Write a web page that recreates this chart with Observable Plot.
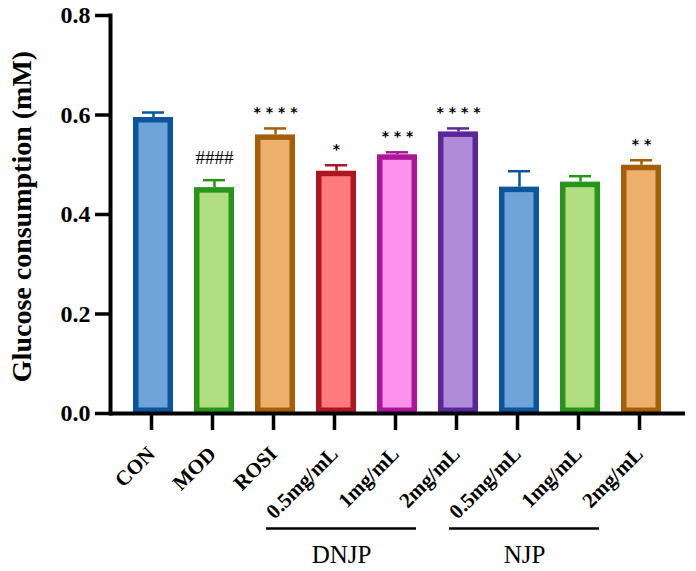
<!DOCTYPE html>
<html>
<head>
<meta charset="utf-8">
<script src="https://cdn.jsdelivr.net/npm/d3@7"></script>
<script src="https://cdn.jsdelivr.net/npm/@observablehq/plot@0.6"></script>
<style>
  html, body { margin: 0; padding: 0; background: #fff; }
</style>
</head>
<body>
<div id="chart"></div>
<script>
// ---- data ----
const categories = ["CON", "MOD", "ROSI", "0.5mg/mL", "1mg/mL", "2mg/mL", "0.5mg/mL", "1mg/mL", "2mg/mL"];
const groups     = ["", "", "", "DNJP", "DNJP", "DNJP", "NJP", "NJP", "NJP"];
const means      = [0.595, 0.454, 0.560, 0.487, 0.520, 0.566, 0.455, 0.465, 0.499];
const errors     = [0.010, 0.015, 0.013, 0.012, 0.005, 0.007, 0.032, 0.012, 0.010];
const signif     = ["", "####", "****", "*", "***", "****", "", "", "**"];
const fillColors   = ["#6ea4d8", "#b2de82", "#ecb06c", "#fe7a7c", "#fe91ee", "#b08bd8", "#6ea4d8", "#b2de82", "#ecb06c"];
const strokeColors = ["#0a559b", "#27951a", "#a65e08", "#ac1522", "#ac1596", "#5a269a", "#0a559b", "#27951a", "#a65e08"];
const yTicks = [0, 0.2, 0.4, 0.6, 0.8];
const yLabel = "Glucose consumption (mM)";

const data = categories.map((c, i) => ({
  i, cat: c, group: groups[i], mean: means[i], err: errors[i], top: means[i] + errors[i],
  sig: signif[i], fill: fillColors[i], stroke: strokeColors[i]
}));
const groupNames = [...new Set(groups.filter(g => g))];
const groupSpans = groupNames.map(g => {
  const idx = data.filter(d => d.group === g).map(d => d.i);
  return {group: g, first: idx[0], mid: idx[Math.floor(idx.length / 2)], last: idx[idx.length - 1]};
});
const hashes = data.filter(d => d.sig.startsWith("#"));
const stars = data.filter(d => d.sig.startsWith("*")).map(d => ({...d, label: d.sig.split("").join(" ")}));

const serif = "'Liberation Serif', 'Times New Roman', serif";

const chart = Plot.plot({
  width: 696,
  height: 571,
  marginLeft: 110,
  marginRight: 11,
  marginTop: 15,
  marginBottom: 158,
  style: {fontFamily: serif, background: "#fff", color: "#000"},
  x: {type: "band", domain: data.map(d => d.i), paddingInner: 0.337, paddingOuter: 0.362},
  y: {domain: [0, 0.8]},
  color: {type: "identity"},
  marks: [
    // error bars (upper only)
    Plot.ruleX(data, {x: "i", y1: "mean", y2: "top", stroke: "stroke", strokeWidth: 2.5}),
    Plot.tickY(data, {x: "i", y: "top", stroke: "stroke", strokeWidth: 2.5, inset: 9}),
    // bars
    Plot.barY(data, {x: "i", y: "mean", fill: "fill", stroke: "stroke", strokeWidth: 5.5, inset: 2.75}),
    // axes
    Plot.axisY({ticks: yTicks, tickFormat: d3.format(".1f"), tickSize: 15, tickPadding: 5,
      fontSize: 24, fontWeight: "bold", strokeWidth: 3.5, label: null}),
    Plot.text([yLabel], {frameAnchor: "left", rotate: -90, dx: -88, dy: 2, fontSize: 28, fontWeight: "bold",
      textAnchor: "middle", lineAnchor: "middle"}),
    Plot.axisX({tickFormat: i => categories[i], tickRotate: -45, tickSize: 17, tickPadding: 20, dx: -2,
      fontSize: 21, fontWeight: "bold", strokeWidth: 3.5, label: null}),
    Plot.frame({anchor: "left", strokeWidth: 4}),
    Plot.ruleY([0], {strokeWidth: 4}),
    // significance marks
    Plot.text(hashes, {x: "i", y: "top", text: "sig", dy: -22, fontSize: 19, fontFamily: serif, lineAnchor: "middle"}),
    Plot.text(stars, {x: "i", y: "top", text: "label", dy: -15.5, fontSize: 14, fontWeight: "bold",
      fontFamily: "'DejaVu Sans', sans-serif", lineAnchor: "middle"}),
    // group brackets (anchored to the baseline, offset below the tick labels)
    Plot.ruleY(groupSpans, {x1: "first", x2: "last", y: 0, dx: -56, insetLeft: 6, insetRight: 6, dy: 115, strokeWidth: 2.5}),
    Plot.text(groupSpans, {x: "mid", text: "group", frameAnchor: "bottom", dx: -56, dy: 141, fontSize: 25, lineAnchor: "middle"})
  ]
});
document.getElementById("chart").append(chart);
</script>
</body>
</html>
